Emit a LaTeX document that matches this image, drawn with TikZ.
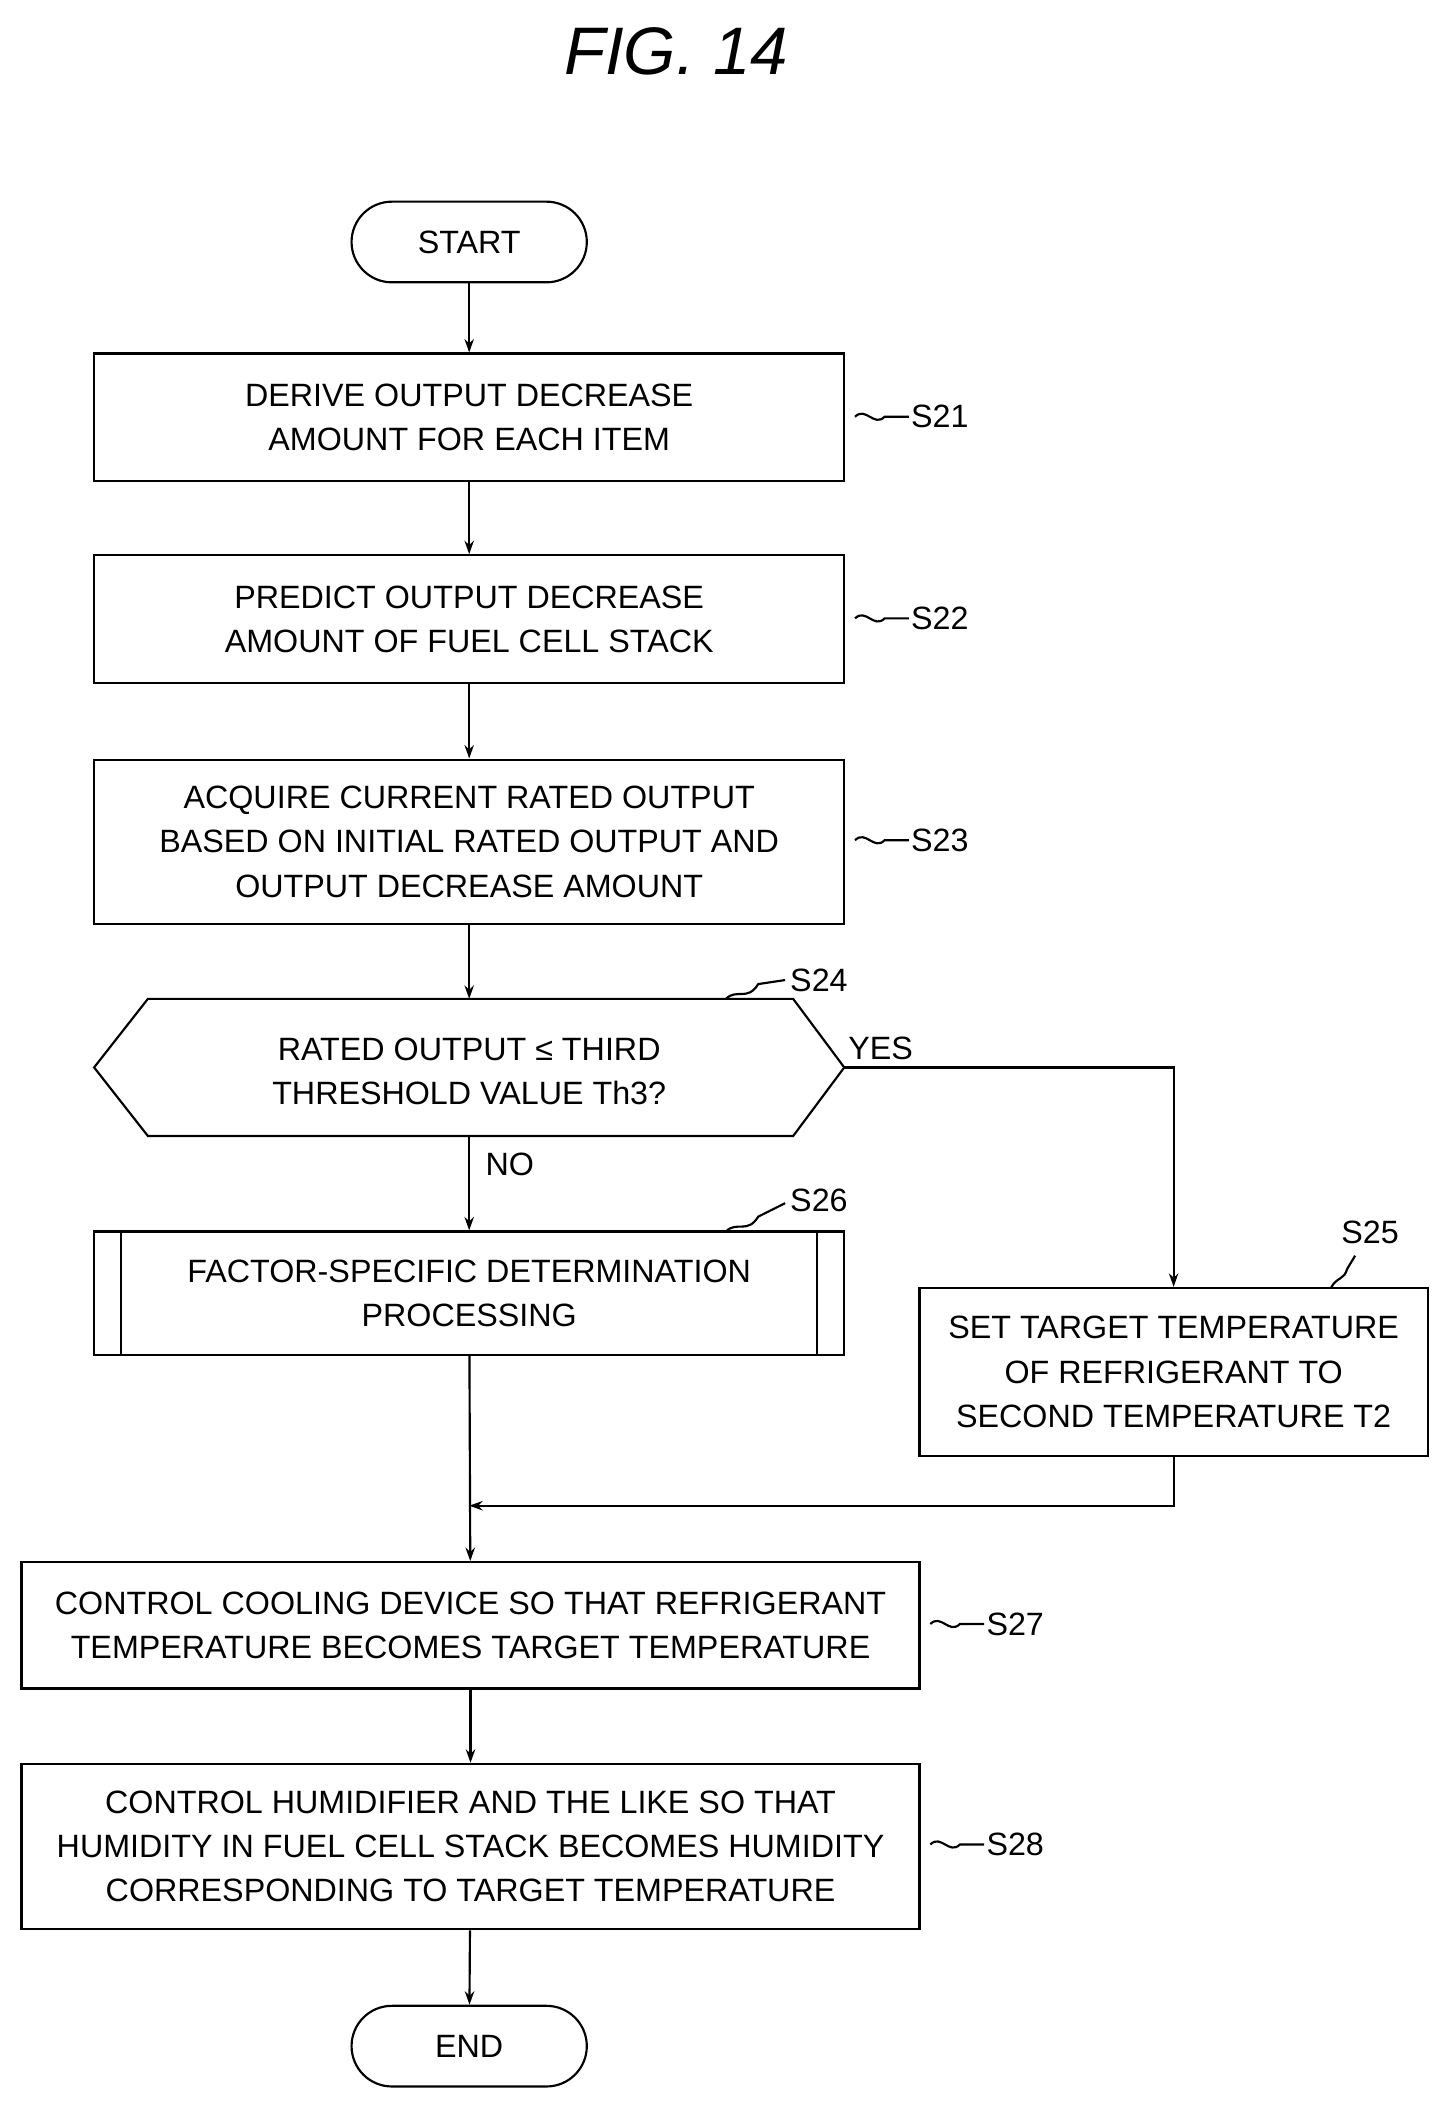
\documentclass[tikz,border=0pt]{standalone}
\usepackage{fontspec}
\setmainfont{Liberation Sans}
\usetikzlibrary{arrows.meta}
\tikzset{every picture/.style={line width=1.6pt}}
\tikzset{
  box/.style={draw, line width=1.6pt, align=center, inner sep=0pt, font=\fontsize{24}{33}\selectfont},
  term/.style={draw, line width=1.6pt, rounded corners=30pt, minimum width=175, minimum height=60, inner sep=0pt, font=\fontsize{24}{33}\selectfont},
  lbl/.style={anchor=west, inner sep=1pt, font=\fontsize{24}{28}\selectfont},
  flow/.style={-{Stealth[length=10pt,width=7pt]}}
}
\newcommand{\squig}[2]{% squiggle leader starting at (#1,#2)
  (#1,#2) .. controls (#1+8,#2-8) and (#1+14,#2+8) .. (#1+22,#2) -- (#1+40,#2)}
\begin{document}
\begin{tikzpicture}[x=1pt,y=1pt,yscale=-1]
\useasboundingbox (0,0) rectangle (1080,1571);
% title
\node (title) at (503,38) {\fontsize{50}{50}\selectfont\itshape FIG. 14};
% terminals and process boxes
\node[term] (start) at (349,180) {START};
\node[box, minimum width=558, minimum height=95] (s21) at (349,310.5) {DERIVE OUTPUT DECREASE\\AMOUNT FOR EACH ITEM};
\node[box, minimum width=558, minimum height=95] (s22) at (349,460.5) {PREDICT OUTPUT DECREASE\\AMOUNT OF FUEL CELL STACK};
\node[box, minimum width=558, minimum height=122] (s23) at (349,626) {ACQUIRE CURRENT RATED OUTPUT\\BASED ON INITIAL RATED OUTPUT AND\\OUTPUT DECREASE AMOUNT};
% decision
\coordinate (d-w) at (70,794);
\coordinate (d-e) at (628,794);
\coordinate (d-n) at (349,743);
\coordinate (d-s) at (349,845);
\draw (d-w) -- (110,743) -- (590,743) -- (d-e) -- (590,845) -- (110,845) -- cycle;
\node[align=center, font=\fontsize{24}{33}\selectfont] (s24) at (349,797) {RATED OUTPUT ≤ THIRD\\THRESHOLD VALUE Th3?};
% predefined process
\node[box, minimum width=558, minimum height=92] (s26) at (349,962) {FACTOR-SPECIFIC DETERMINATION\\PROCESSING};
\draw (90,916) -- (90,1008);
\draw (608,916) -- (608,1008);
\node[box, minimum width=378, minimum height=125] (s25) at (873,1020.5) {SET TARGET TEMPERATURE\\OF REFRIGERANT TO\\SECOND TEMPERATURE T2};
\node[box, minimum width=668, minimum height=94] (s27) at (350,1209) {CONTROL COOLING DEVICE SO THAT REFRIGERANT\\TEMPERATURE BECOMES TARGET TEMPERATURE};
\node[box, minimum width=668, minimum height=123] (s28) at (350,1373.5) {CONTROL HUMIDIFIER AND THE LIKE SO THAT\\HUMIDITY IN FUEL CELL STACK BECOMES HUMIDITY\\CORRESPONDING TO TARGET TEMPERATURE};
\node[term] (end) at (349,1522) {END};
% connectors
\draw[flow] (start) -- (s21);
\draw[flow] (s21) -- (s22);
\draw[flow] (s22) -- (s23);
\draw[flow] (s23) -- (d-n);
\draw[flow] (d-s) -- (s26) node[pos=0.3, right=8pt, font=\fontsize{24}{28}\selectfont] {NO};
\draw[flow] (d-e) -- (873,794) -- (s25.north);
\node[font=\fontsize{24}{28}\selectfont] (yes) at (655,780) {YES};
\coordinate (join) at (349,1120);
\draw[flow] (s26) -- (s27);
\draw[flow] (s25.south) |- (join);
\draw[flow] (s27) -- (s28);
\draw[flow] (s28) -- (end);
% step labels
\draw \squig{636}{310}; \node[lbl] (l21) at (676,310) {S21};
\draw \squig{636}{460}; \node[lbl] (l22) at (676,460) {S22};
\draw \squig{636}{625}; \node[lbl] (l23) at (676,625) {S23};
\draw (540,743) .. controls (548,735) and (556,745) .. (564,732) -- (584,729); \node[lbl] (l24) at (586,729) {S24};
\draw (540,916) .. controls (548,908) and (556,918) .. (564,905) -- (584,895); \node[lbl] (l26) at (586,893) {S26};
\draw (990,958) .. controls (994,950) and (1000,952) .. (1002,944) -- (1008,934); \node[lbl] (l25) at (996,917) {S25};
\draw \squig{692}{1208}; \node[lbl] (l27) at (732,1208) {S27};
\draw \squig{692}{1372}; \node[lbl] (l28) at (732,1372) {S28};
\end{tikzpicture}
\end{document}
